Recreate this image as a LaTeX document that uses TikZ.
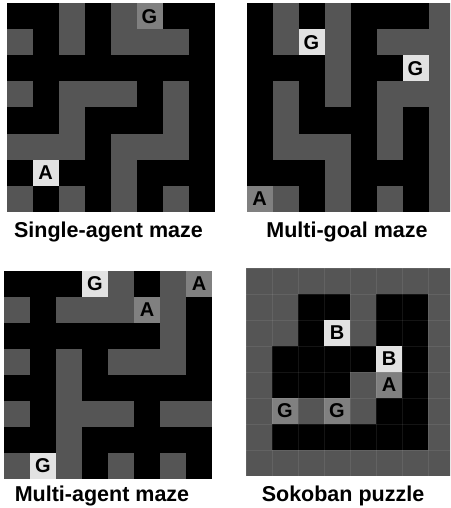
\documentclass[tikz,border=0pt]{standalone}
\usepackage{fontspec}
\setmainfont{Liberation Sans}

\definecolor{colk}{HTML}{000000}
\definecolor{cold}{HTML}{555555}
\definecolor{colm}{HTML}{808080}
\definecolor{coll}{HTML}{E2E2E2}

% one 8x8 board: left, top, rows of cell codes
\newcommand{\drawmaze}[3]{%
  \foreach \cells [count=\r from 0] in {#3} {
    \foreach \c [count=\i from 0] in \cells {
      \fill[fill=col\c] ({#1+\i*26},{#2+\r*26}) rectangle ++(26,26);
    }
  }
}

\tikzset{
  tag/.style={font=\bfseries\fontsize{20}{20}\selectfont, inner sep=0pt},
  caption/.style={font=\bfseries\fontsize{21.5}{22}\selectfont, anchor=base, inner sep=0pt}
}

\begin{document}
\begin{tikzpicture}[x=1pt, y=-1pt]
  \useasboundingbox (0,0) rectangle (450,508);
  \fill[white] (0,0) rectangle (450,508);

  \begin{scope}
    \clip (0,0) rectangle (450,508);

    % Single-agent maze
    \drawmaze{6.5}{3.5}{{k,k,d,k,d,m,k,k},{d,k,d,k,d,d,d,k},{k,k,k,k,k,k,k,k},{d,k,d,d,d,k,d,k},
      {k,k,d,k,k,k,d,k},{d,d,d,k,d,d,d,k},{k,l,k,k,d,k,k,k},{d,k,d,k,d,k,d,k}}
    \node[tag] (g1) at (149.5,16.5) {G};
    \node[tag] (a1) at (45.5,172.5) {A};

    % Multi-goal maze
    \drawmaze{246.5}{3.5}{{k,d,k,d,k,k,k,d},{k,d,l,d,k,d,d,d},{k,k,k,d,k,k,l,d},{k,d,k,d,k,d,d,d},
      {k,d,k,k,k,d,k,d},{k,d,d,d,k,d,k,d},{k,k,k,d,k,k,k,d},{m,d,k,d,k,d,k,d}}
    \node[tag] (g2a) at (311.5,42.5) {G};
    \node[tag] (g2b) at (415.5,68.5) {G};
    \node[tag] (a2) at (259.5,198.5) {A};

    % Multi-agent maze
    \drawmaze{4}{271}{{k,k,k,l,d,k,d,m},{d,k,d,d,d,m,d,k},{k,k,k,k,k,k,d,k},{d,k,d,k,d,d,d,k},
      {k,k,d,k,k,k,k,k},{d,k,d,d,d,k,d,d},{k,k,d,k,k,k,k,k},{d,l,d,k,d,k,d,k}}
    \node[tag] (g3a) at (95,284) {G};
    \node[tag] (a3a) at (199,284) {A};
    \node[tag] (a3b) at (147,310) {A};
    \node[tag] (g3b) at (43,466) {G};

    % Sokoban puzzle
    \drawmaze{246}{268}{{d,d,d,d,d,d,d,d},{d,d,k,k,d,k,k,d},{d,d,k,l,d,k,k,d},{d,k,k,k,k,l,k,d},
      {d,k,k,k,d,m,k,d},{d,m,d,m,d,k,k,d},{d,k,k,k,k,k,k,d},{d,d,d,d,d,d,d,d}}
    \foreach \i in {0,...,8} {
      \draw[white, opacity=0.08, line width=0.8pt] ({246+\i*26},268) -- ++(0,208);
      \draw[white, opacity=0.08, line width=0.8pt] (246,{268+\i*26}) -- ++(208,0);
    }
    \node[tag] (b4a) at (337,333) {B};
    \node[tag] (b4b) at (389,359) {B};
    \node[tag] (a4) at (389,385) {A};
    \node[tag] (g4a) at (285,411) {G};
    \node[tag] (g4b) at (337,411) {G};
  \end{scope}

  \node[caption] (single) at (108.5,237) {Single-agent maze};
  \node[caption] (multigoal) at (347,237) {Multi-goal maze};
  \node[caption] (multiagent) at (102,501) {Multi-agent maze};
  \node[caption] (sokoban) at (343,501) {Sokoban puzzle};
\end{tikzpicture}
\end{document}
